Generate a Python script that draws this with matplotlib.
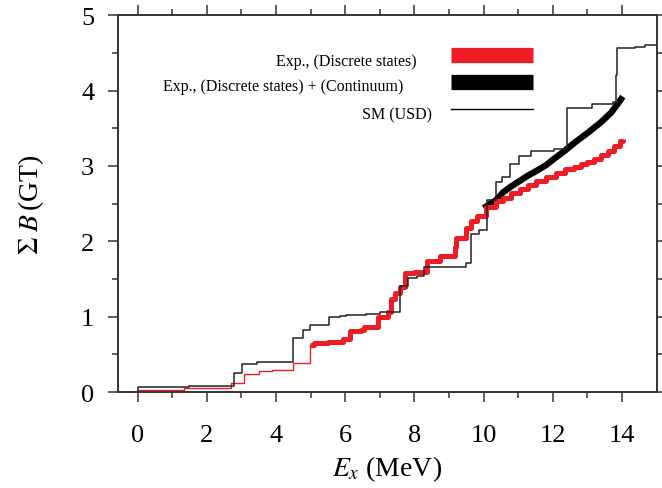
import matplotlib
matplotlib.use("Agg")
import matplotlib.pyplot as plt
from matplotlib.lines import Line2D

plt.rcParams["font.family"] = ["Liberation Serif", "DejaVu Serif"]
plt.rcParams["mathtext.fontset"] = "stix"

# SM (USD) cumulative B(GT), step positions
sm_E = [0.0, 0.0, 1.5, 2.79, 3.03, 3.44, 4.5, 4.77, 4.98, 5.53, 5.86, 6.02, 6.59, 7.0,
        7.57, 7.81, 8.06, 8.27, 9.48, 9.64, 9.86, 10.1, 10.37, 10.54, 10.75, 11.03,
        11.38, 12.03, 12.41, 13.14, 13.73, 13.81, 13.85, 14.36, 14.65, 15.0]
sm_B = [0.0, 0.07, 0.085, 0.26, 0.38, 0.40, 0.72, 0.83, 0.89, 0.995, 1.01, 1.025, 1.04, 1.065,
        1.41, 1.51, 1.54, 1.66, 1.71, 2.10, 2.15, 2.55, 2.79, 2.85, 3.02, 3.13,
        3.20, 3.23, 3.77, 3.82, 3.85, 4.20, 4.57, 4.58, 4.60, 4.60]

# Exp. discrete states, low-energy part (thin)
low_E = [0.0, 0.0, 1.35, 2.7, 3.08, 3.51, 3.87, 4.5, 4.98]
low_B = [0.0, 0.03, 0.05, 0.115, 0.235, 0.28, 0.30, 0.39, 0.62]

# Exp. discrete states (thick band)
disc_E = [4.98, 5.1, 5.5, 5.94, 6.15, 6.47, 6.55, 6.95, 7.24, 7.33, 7.43, 7.57, 7.72,
          8.0, 8.35, 8.73, 9.16, 9.21, 9.5, 9.64, 9.8, 10.08, 10.37, 10.56, 10.8,
          11.04, 11.27, 11.51, 11.8, 12.1, 12.34, 12.6, 12.82, 13.0, 13.2, 13.4,
          13.59, 13.77, 13.93, 14.02]
disc_B = [0.62, 0.65, 0.67, 0.70, 0.81, 0.83, 0.86, 1.00, 1.06, 1.23, 1.32, 1.39, 1.58,
          1.60, 1.74, 1.81, 1.92, 2.05, 2.18, 2.27, 2.34, 2.45, 2.53, 2.57, 2.64,
          2.70, 2.75, 2.80, 2.86, 2.91, 2.96, 2.99, 3.02, 3.05, 3.09, 3.14,
          3.20, 3.26, 3.33, 3.36]

# Exp. discrete states + continuum
cont_E = [10.0, 10.37, 10.56, 10.8, 11.04, 11.27, 11.51, 11.8, 12.05, 12.34, 12.63,
          13.01, 13.39, 13.69, 13.93, 14.02]
cont_B = [2.44, 2.55, 2.65, 2.73, 2.80, 2.87, 2.93, 3.01, 3.10, 3.20, 3.31,
          3.44, 3.58, 3.71, 3.86, 3.92]

red = "#ee1c24"

fig = plt.figure(figsize=(6.62, 4.89), dpi=100)
ax = fig.add_axes([0.178, 0.196, 0.814, 0.771])

ax.plot(cont_E, cont_B, color="black", lw=4.6, solid_capstyle="butt")
ax.step(low_E, low_B, where="post", color=red, lw=1.0)
ax.step(disc_E, disc_B, where="post", color=red, lw=3.6, solid_capstyle="butt")
ax.step(sm_E, sm_B, where="post", color="#222222", lw=1.1)

ax.set_xlim(-0.57, 15)
ax.set_ylim(0, 5)
ax.set_xticks(range(0, 15, 2))
ax.set_xticks(range(0, 15, 1), minor=True)
ax.set_yticks(range(0, 6))
ax.set_yticks([0.5, 1.5, 2.5, 3.5, 4.5], minor=True)
ax.tick_params(which="both", direction="out", top=True, right=True,
               labelsize=19, color="#333333", width=1.1)
ax.tick_params(axis="x", pad=16)
ax.tick_params(axis="y", pad=10)
ax.tick_params(which="major", length=7)
ax.tick_params(which="minor", length=4)
for s in ax.spines.values():
    s.set_color("#333333")
    s.set_linewidth(1.4)

ax.set_xlabel(r"$E_{x}$ (MeV)", fontsize=20, labelpad=5)
ax.set_ylabel(r"$\Sigma\ B\,$(GT)", fontsize=20, labelpad=25)

# legend drawn by hand (texts to the left of the samples)
ax.text(0.554, 0.879, "Exp., (Discrete states)", transform=ax.transAxes,
        ha="right", va="center", fontsize=11.5)
ax.text(0.529, 0.812, "Exp., (Discrete states) + (Continuum)", transform=ax.transAxes,
        ha="right", va="center", fontsize=11.5)
ax.text(0.583, 0.737, "SM (USD)", transform=ax.transAxes,
        ha="right", va="center", fontsize=11.5)
ax.add_line(Line2D([0.619, 0.771], [0.893, 0.893], transform=ax.transAxes,
                   color=red, lw=11, solid_capstyle="butt"))
ax.add_line(Line2D([0.619, 0.771], [0.822, 0.822], transform=ax.transAxes,
                   color="black", lw=11, solid_capstyle="butt"))
ax.add_line(Line2D([0.619, 0.771], [0.752, 0.752], transform=ax.transAxes,
                   color="black", lw=1.0))

fig.savefig("out.png", dpi=100)
